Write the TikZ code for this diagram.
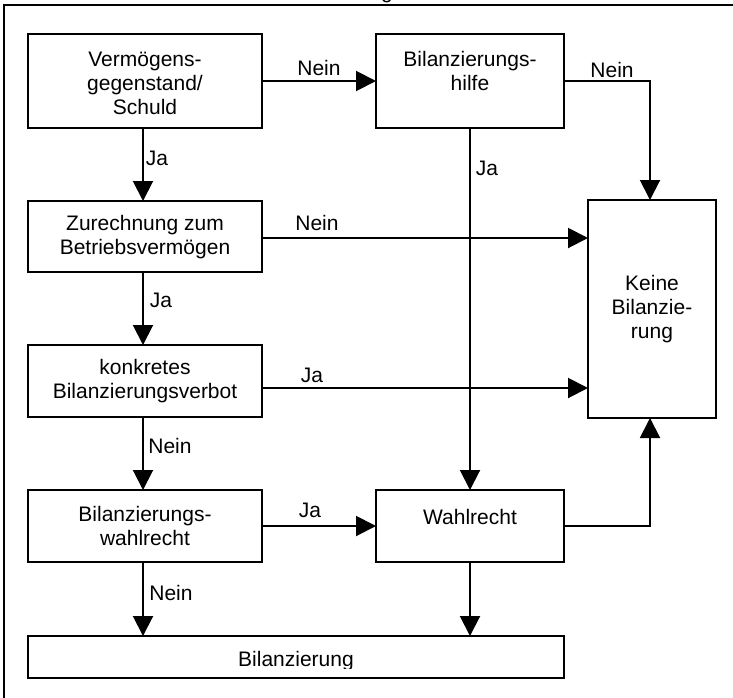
\documentclass[tikz,border=0pt]{standalone}
\usepackage{fontspec}
\setmainfont{Liberation Sans}
\usetikzlibrary{arrows.meta,fit}
\begin{document}
\begin{tikzpicture}[x=0.5pt,y=-0.5pt,
  every node/.style={font=\fontsize{10.5pt}{12pt}\selectfont},
  box/.style={draw,line width=1pt,inner sep=0pt,outer sep=0pt},
  txt/.style={align=center,inner sep=0pt},
  lbl/.style={inner sep=0pt},
  arr/.style={line width=1pt,-{Triangle[length=10pt,width=10pt]}},
  ln/.style={line width=1pt}]
\useasboundingbox (0,0) rectangle (733,697);
% outer frame (partly outside the page)
\draw[ln] (4,720) -- (4,4.5) -- (760,4.5);
\node[anchor=base,lbl] (gcut) at (387,-2) {g};
% boxes
\node[box,fit={(28,34) (262,128)}] (b1) {};
\node[box,fit={(376,34) (564,128)}] (b2) {};
\node[box,fit={(28,201) (262,272)}] (zur) {};
\node[box,fit={(588,200) (716,418)}] (keine) {};
\node[box,fit={(28,345) (262,417)}] (kon) {};
\node[box,fit={(28,490) (262,562)}] (bw) {};
\node[box,fit={(376,490) (564,562)}] (wahl) {};
\node[box,fit={(28,636) (564,678)}] (bil) {};
% texts
\node[txt] (t1) at (145,83) {Vermögens-\\gegenstand/\\Schuld};
\node[txt] (t2) at (470,71) {Bilanzierungs-\\hilfe};
\node[txt] (t3) at (145,237) {Zurechnung zum\\Betriebsvermögen};
\node[txt] (t4) at (652,309) {Keine\\Bilanzie-\\rung};
\node[txt] (t5) at (145,381) {konkretes\\Bilanzierungsverbot};
\node[txt] (t6) at (145,526) {Bilanzierungs-\\wahlrecht};
\node[txt] (t7) at (470,517) {Wahlrecht};
\begin{scope}
\clip (28,636) rectangle (564,668);
\node[anchor=base,lbl] (t8) at (296,666) {Bilanzierung};
\end{scope}
% connectors
\coordinate (kn) at (650,200);
\coordinate (ks) at (650,418);
\draw[arr] (b1.east) -- (b2.west);
\draw[arr] (b2.east) -| (kn);
\draw[arr] ([xshift=-1pt]b1.south) -- ([xshift=-1pt]zur.north);
\draw[arr] (b2.south) -- (wahl.north);
\draw[arr] ([yshift=-0.75pt]zur.east) -- ([yshift=-0.75pt]zur.east -| keine.west);
\draw[arr] ([xshift=-1pt]zur.south) -- ([xshift=-1pt]kon.north);
\draw[arr] ([yshift=-3.5pt]kon.east) -- ([yshift=-3.5pt]kon.east -| keine.west);
\draw[arr] ([xshift=-1pt]kon.south) -- ([xshift=-1pt]bw.north);
\draw[arr] (bw.east) -- (wahl.west);
\draw[arr] (wahl.east) -| (ks);
\draw[arr] ([xshift=-1pt]bw.south) -- ([xshift=-1pt]bw.south |- bil.north);
\draw[arr] (wahl.south) -- (wahl.south |- bil.north);
% labels
\node[lbl] (l1) at (319,68) {Nein};
\node[lbl] (l2) at (612,70) {Nein};
\node[lbl] (l3) at (157,158) {Ja};
\node[lbl] (l4) at (487,168) {Ja};
\node[lbl] (l5) at (317,223) {Nein};
\node[lbl] (l6) at (161,300) {Ja};
\node[lbl] (l7) at (312,375) {Ja};
\node[lbl] (l8) at (170,446) {Nein};
\node[lbl] (l9) at (310,510) {Ja};
\node[lbl] (l10) at (171,593) {Nein};
\end{tikzpicture}
\end{document}
